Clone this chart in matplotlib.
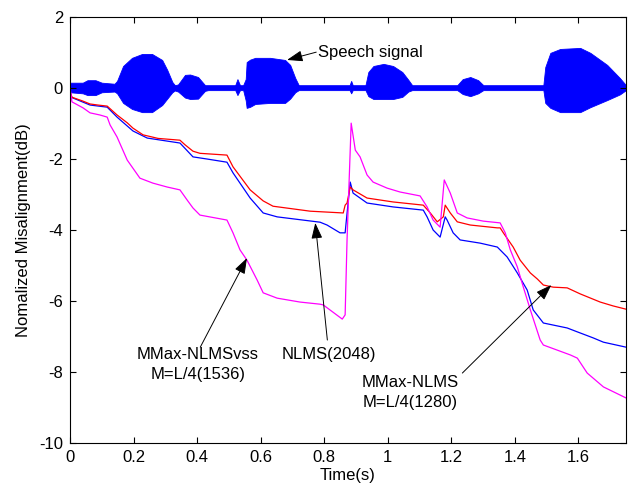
import numpy as np
import matplotlib
matplotlib.use('Agg')
import matplotlib.pyplot as plt
from matplotlib.ticker import FormatStrFormatter

plt.rcParams['font.family'] = ['Liberation Sans', 'DejaVu Sans']
plt.rcParams['font.size'] = 12

# speech waveform envelope (time, upper, lower)
sp_t = [0.0, 0.04, 0.055, 0.08, 0.10, 0.14, 0.148, 0.167, 0.195, 0.227, 0.258, 0.290, 0.306, 0.322,
        0.330, 0.340, 0.362, 0.378, 0.403, 0.425, 0.435, 0.52, 0.527, 0.535, 0.545, 0.553,
        0.556, 0.567, 0.583, 0.63, 0.677, 0.693, 0.709, 0.72, 0.88, 0.885, 0.89, 0.93,
        0.939, 0.955, 0.987, 1.017, 1.046, 1.065, 1.077, 1.12, 1.219, 1.236, 1.260, 1.285, 1.301,
        1.49, 1.496, 1.512, 1.543, 1.606, 1.638, 1.691, 1.731, 1.75]
sp_up = [0.15, 0.15, 0.22, 0.22, 0.15, 0.12, 0.20, 0.62, 0.85, 0.96, 0.96, 0.79, 0.51, 0.17,
         0.08, 0.10, 0.37, 0.38, 0.31, 0.08, 0.08, 0.08, 0.25, 0.08, 0.08, 0.25,
         0.73, 0.80, 0.85, 0.85, 0.79, 0.65, 0.28, 0.08, 0.08, 0.20, 0.08, 0.08,
         0.45, 0.62, 0.68, 0.62, 0.45, 0.23, 0.08, 0.08, 0.08, 0.25, 0.31, 0.22, 0.08,
         0.08, 0.59, 0.99, 1.10, 1.13, 0.99, 0.65, 0.28, 0.08]
sp_lo = [-0.12, -0.15, -0.20, -0.20, -0.12, -0.10, -0.15, -0.42, -0.59, -0.68, -0.68, -0.48, -0.30, -0.12,
         -0.07, -0.10, -0.27, -0.31, -0.30, -0.08, -0.06, -0.06, -0.20, -0.06, -0.06, -0.35,
         -0.56, -0.53, -0.45, -0.42, -0.42, -0.30, -0.12, -0.06, -0.06, -0.15, -0.06, -0.06,
         -0.23, -0.31, -0.31, -0.31, -0.25, -0.10, -0.06, -0.06, -0.06, -0.17, -0.23, -0.15, -0.06,
         -0.06, -0.42, -0.56, -0.68, -0.68, -0.54, -0.34, -0.18, -0.06]

# MMax-NLMS M=L/4(1280)
red_t = [0.0, 0.006, 0.038, 0.063, 0.088, 0.117, 0.148, 0.180, 0.198, 0.230, 0.277, 0.346, 0.362,
         0.387, 0.409, 0.494, 0.513, 0.567, 0.608, 0.639, 0.756, 0.860, 0.866, 0.872, 0.882, 0.891,
         0.935, 1.017, 1.112, 1.134, 1.156, 1.175, 1.181, 1.197, 1.219, 1.260, 1.345, 1.354, 1.364,
         1.395, 1.417, 1.449, 1.471, 1.490, 1.521, 1.565, 1.606, 1.669, 1.710, 1.75]
red_y = [-0.10, -0.26, -0.36, -0.45, -0.48, -0.51, -0.76, -0.98, -1.13, -1.32, -1.42, -1.47, -1.60,
         -1.78, -1.84, -1.89, -2.22, -2.87, -3.18, -3.33, -3.47, -3.52, -3.30, -3.24, -2.79, -2.87,
         -3.10, -3.21, -3.30, -3.52, -3.77, -3.63, -3.30, -3.52, -3.77, -3.86, -3.94, -3.94, -4.08,
         -4.48, -4.85, -5.21, -5.38, -5.55, -5.61, -5.63, -5.80, -6.03, -6.14, -6.23]

# NLMS(2048)
blue_t = [0.0, 0.006, 0.063, 0.117, 0.148, 0.198, 0.243, 0.346, 0.387, 0.431, 0.494, 0.513, 0.567,
          0.608, 0.652, 0.787, 0.809, 0.850, 0.866, 0.869, 0.882, 0.891, 0.935, 1.017, 1.112, 1.124,
          1.143, 1.165, 1.181, 1.187, 1.206, 1.228, 1.291, 1.345, 1.376, 1.408, 1.439, 1.458, 1.490,
          1.565, 1.597, 1.647, 1.679, 1.75]
blue_y = [-0.10, -0.27, -0.48, -0.54, -0.82, -1.21, -1.41, -1.55, -1.94, -2.00, -2.09, -2.39, -3.10,
          -3.52, -3.63, -3.78, -3.86, -4.08, -4.08, -3.80, -2.65, -2.96, -3.24, -3.35, -3.44, -3.63,
          -4.00, -4.20, -3.63, -3.72, -4.08, -4.28, -4.37, -4.48, -4.76, -5.21, -5.69, -6.25, -6.62,
          -6.76, -6.87, -7.04, -7.16, -7.30]

# MMax-NLMSvss M=L/4(1536)
mag_t = [0.0, 0.006, 0.041, 0.063, 0.094, 0.117, 0.126, 0.148, 0.180, 0.220, 0.261, 0.306, 0.346,
         0.369, 0.387, 0.409, 0.494, 0.513, 0.535, 0.557, 0.589, 0.608, 0.652, 0.724, 0.787, 0.797,
         0.857, 0.866, 0.872, 0.885, 0.898, 0.913, 0.935, 0.954, 0.998, 1.039, 1.102, 1.124, 1.143,
         1.165, 1.178, 1.197, 1.219, 1.250, 1.301, 1.354, 1.370, 1.386, 1.408, 1.427, 1.449, 1.480,
         1.490, 1.575, 1.597, 1.628, 1.679, 1.75]
mag_y = [0.00, -0.39, -0.56, -0.70, -0.76, -0.82, -1.04, -1.38, -2.03, -2.54, -2.68, -2.79, -2.87,
         -3.16, -3.38, -3.58, -3.72, -4.08, -4.56, -4.85, -5.41, -5.77, -5.92, -6.03, -6.09, -6.11,
         -6.51, -6.39, -4.28, -0.99, -1.75, -1.94, -2.45, -2.65, -2.82, -2.93, -3.04, -3.35, -3.72,
         -3.92, -2.59, -2.96, -3.52, -3.66, -3.75, -3.80, -4.08, -4.56, -5.04, -5.61, -6.25, -7.10,
         -7.24, -7.52, -7.61, -8.03, -8.42, -8.73]

fig = plt.figure(figsize=(6.31, 4.86), dpi=100)
ax = fig.add_axes([0.111, 0.0885, 0.881, 0.8765])

ax.fill_between(sp_t, sp_lo, sp_up, color='#0000ff', lw=0.6)
ax.plot(blue_t, blue_y, color='#0000ff', lw=0.9)
ax.plot(red_t, red_y, color='#ff0000', lw=0.9)
ax.plot(mag_t, mag_y, color='#ff00ff', lw=0.9)

ax.set_xlim(0, 1.75)
ax.set_ylim(-10, 2)
ax.set_xticks(np.arange(0, 1.61, 0.2))
ax.set_yticks(np.arange(-10, 2.1, 2))
ax.xaxis.set_major_formatter(FormatStrFormatter('%g'))
ax.yaxis.set_major_formatter(FormatStrFormatter('%g'))
ax.tick_params(direction='in', length=4, width=0.8, top=True, right=True, labelsize=12, pad=5)
for s in ax.spines.values():
    s.set_linewidth(0.8)

ax.set_xlabel('Time(s)', labelpad=2)
ax.set_ylabel('Nomalized Misalignment(dB)', labelpad=6)

arr = dict(arrowstyle='-|>,head_length=0.8,head_width=0.28', color='k', lw=0.7, shrinkA=0, shrinkB=0)

ax.text(0.781, 0.99, 'Speech signal', ha='left', va='center')
ax.annotate('', xy=(0.683, 0.79), xytext=(0.775, 1.01), arrowprops=arr)

ax.text(0.403, -7.52, 'MMax-NLMSvss', ha='center', va='center')
ax.text(0.403, -8.08, 'M=L/4(1536)', ha='center', va='center')
ax.annotate('', xy=(0.557, -4.79), xytext=(0.41, -7.30), arrowprops=arr)

ax.text(0.816, -7.52, 'NLMS(2048)', ha='center', va='center')
ax.annotate('', xy=(0.772, -3.80), xytext=(0.81, -7.10), arrowprops=arr)

ax.text(1.071, -8.31, 'MMax-NLMS', ha='center', va='center')
ax.text(1.071, -8.87, 'M=L/4(1280)', ha='center', va='center')
ax.annotate('', xy=(1.515, -5.55), xytext=(1.235, -8.03), arrowprops=arr)

fig.savefig('out.png', dpi=100)
